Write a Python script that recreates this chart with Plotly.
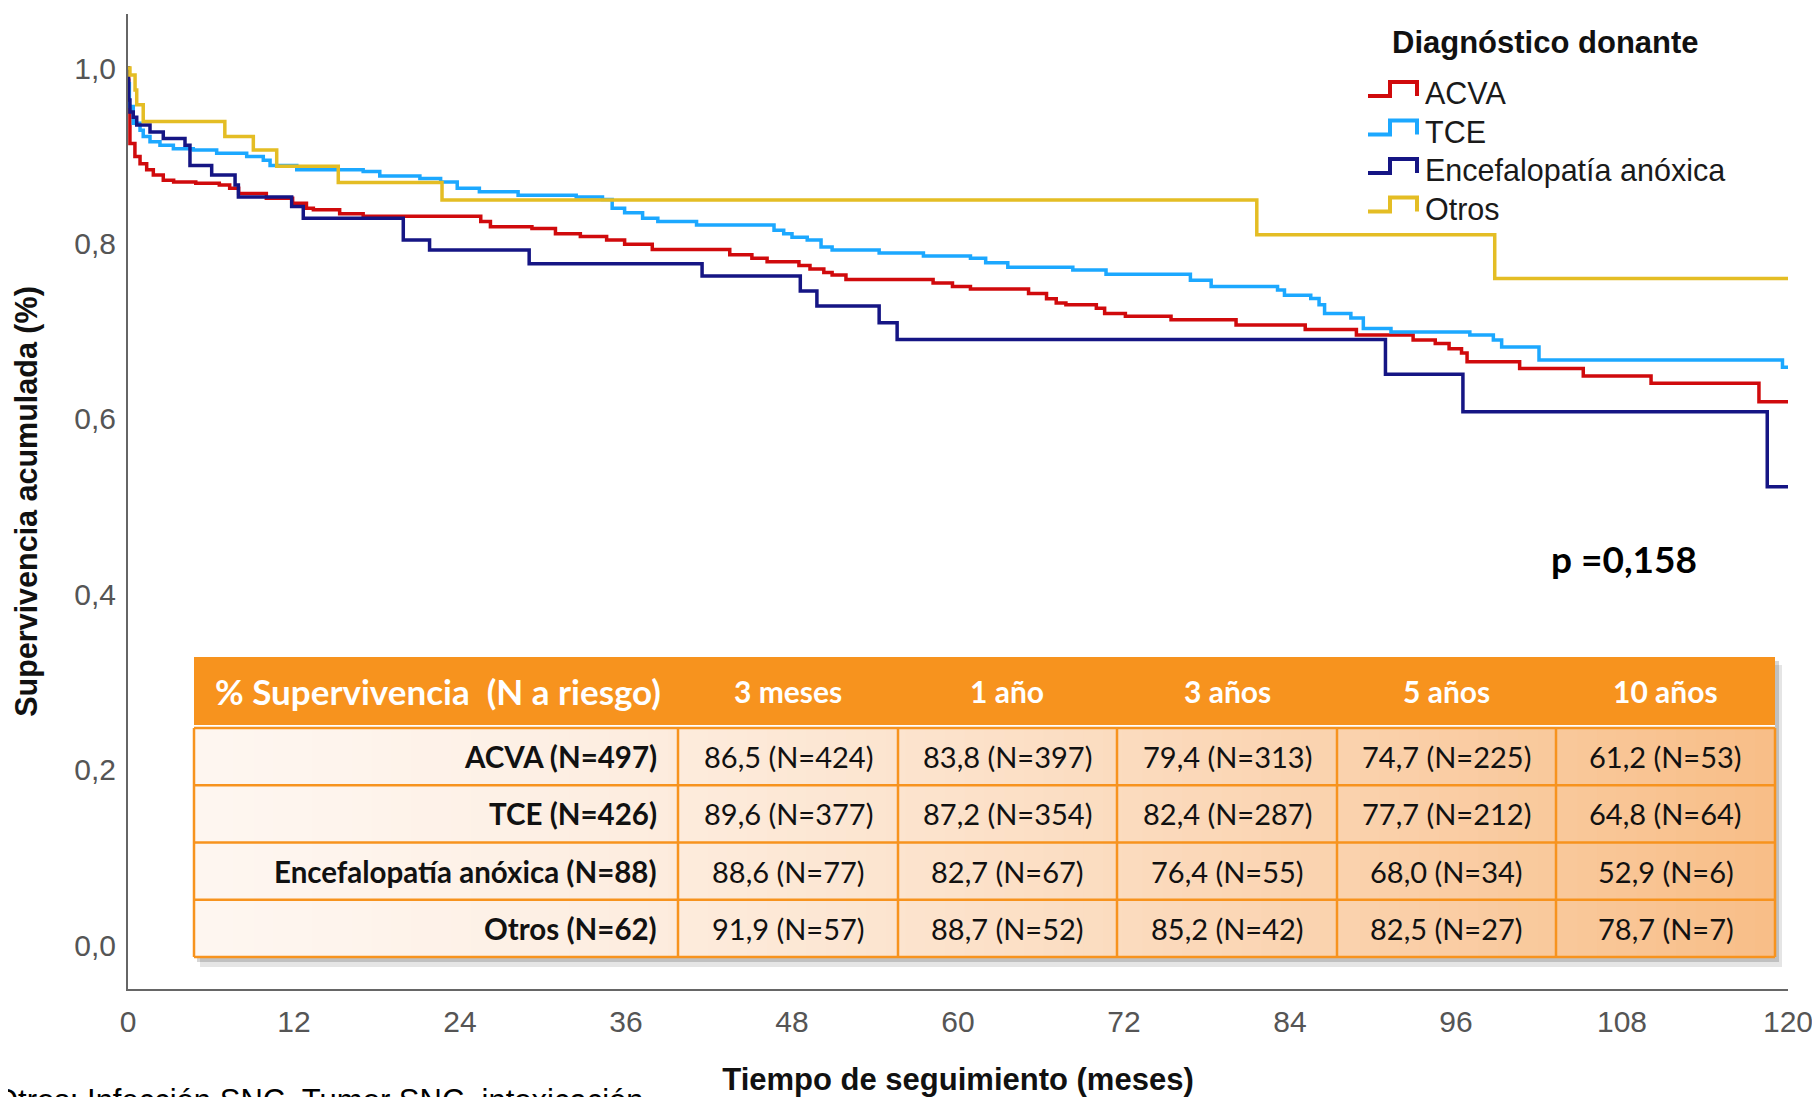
import plotly.graph_objects as go

# Kaplan-Meier curves: month where the curve steps down, and the new value
acva_t = [0, 0.05, 0.14, 0.5, 0.87, 1.35, 1.83, 2.55, 3.3, 4.9, 6.6, 7.35, 8.0, 10.0, 11.9, 12.9, 13.4,
          15.3, 17.0, 25.5, 26.2, 29.2, 30.9, 32.7, 34.6, 35.9, 37.9, 43.5, 45.1, 46.2, 48.5, 49.3,
          50.3, 50.9, 51.9, 58.2, 59.6, 60.9, 65.1, 66.4, 67.1, 67.8, 70.0, 70.6, 72.1, 75.4, 80.1,
          85.1, 88.8, 92.9, 94.5, 95.5, 96.4, 96.8, 100.6, 105.2, 110.1, 117.9, 120]
acva_s = [1.0, 0.956, 0.914, 0.899, 0.891, 0.884, 0.878, 0.872, 0.870, 0.8685, 0.8667, 0.8628, 0.857,
          0.8514, 0.8457, 0.840, 0.8385, 0.834, 0.831, 0.825, 0.819, 0.817, 0.811, 0.808, 0.804, 0.799,
          0.793, 0.787, 0.783, 0.779, 0.775, 0.771, 0.767, 0.764, 0.759, 0.755, 0.751, 0.748, 0.743,
          0.737, 0.732, 0.730, 0.726, 0.720, 0.717, 0.713, 0.707, 0.702, 0.6956, 0.690, 0.686, 0.680,
          0.675, 0.665, 0.6575, 0.649, 0.6405, 0.6195, 0.6195]

tce_t = [0, 0.02, 0.1, 0.38, 0.87, 1.1, 1.59, 2.31, 3.28, 4.72, 6.41, 8.58, 9.78, 10.27, 12.2, 17.0,
         18.2, 21.1, 22.6, 23.8, 25.4, 28.2, 32.4, 34.3, 35.0, 35.9, 37.2, 38.3, 41.1, 46.7, 47.4, 48.0,
         49.1, 50.1, 50.9, 54.3, 57.5, 60.9, 62.0, 63.6, 68.3, 70.7, 76.8, 78.3, 83.1, 83.6, 85.5, 86.1,
         86.5, 88.4, 89.3, 91.3, 97.0, 98.7, 99.3, 102.0, 119.6, 120]
tce_s = [1.0, 0.982, 0.956, 0.937, 0.929, 0.922, 0.916, 0.912, 0.908, 0.9065, 0.9027, 0.899, 0.895,
         0.889, 0.884, 0.882, 0.8768, 0.874, 0.870, 0.863, 0.859, 0.855, 0.853, 0.850, 0.840, 0.835,
         0.8286, 0.825, 0.821, 0.815, 0.811, 0.807, 0.804, 0.796, 0.7925, 0.789, 0.7856, 0.783, 0.778,
         0.773, 0.7697, 0.765, 0.758, 0.751, 0.747, 0.741, 0.7373, 0.730, 0.720, 0.715, 0.703, 0.699,
         0.6956, 0.690, 0.682, 0.667, 0.659, 0.659]

enc_t = [0, 0.02, 0.05, 0.14, 0.38, 0.63, 1.59, 2.55, 4.12, 4.48, 6.05, 7.74, 7.98, 11.83, 12.67,
         19.9, 21.8, 29.0, 41.5, 48.6, 49.8, 54.3, 55.6, 90.9, 96.5, 118.5, 120]
enc_s = [1.0, 0.986, 0.9635, 0.950, 0.944, 0.935, 0.927, 0.9197, 0.912, 0.889, 0.878, 0.8666, 0.853,
         0.842, 0.8286, 0.804, 0.7925, 0.777, 0.763, 0.7457, 0.7286, 0.7096, 0.6906, 0.651, 0.608,
         0.5226, 0.5226]

otros_t = [0, 0.14, 0.51, 0.63, 1.1, 7.0, 9.06, 10.75, 15.2, 22.7, 81.6, 98.8, 120]
otros_s = [1.0, 0.992, 0.975, 0.958, 0.939, 0.922, 0.9065, 0.888, 0.8696, 0.8495, 0.810, 0.760, 0.760]

group_names = ['ACVA', 'TCE', 'Encefalopatía anóxica', 'Otros']
group_colors = ['#d00a0c', '#1ca8ff', '#151584', '#e4bd24']

x_ticks = [0, 12, 24, 36, 48, 60, 72, 84, 96, 108, 120]
y_ticks = [0.0, 0.2, 0.4, 0.6, 0.8, 1.0]

table_header = ['% Supervivencia\u00a0 (N a riesgo)', '3 meses', '1 año', '3 años', '5 años', '10 años']
table_rows = ['ACVA (N=497)', 'TCE (N=426)', 'Encefalopatía anóxica (N=88)', 'Otros (N=62)']
table_values = [
    ['86,5 (N=424)', '83,8 (N=397)', '79,4 (N=313)', '74,7 (N=225)', '61,2 (N=53)'],
    ['89,6 (N=377)', '87,2 (N=354)', '82,4 (N=287)', '77,7 (N=212)', '64,8 (N=64)'],
    ['88,6 (N=77)', '82,7 (N=67)', '76,4 (N=55)', '68,0 (N=34)', '52,9 (N=6)'],
    ['91,9 (N=57)', '88,7 (N=52)', '85,2 (N=42)', '82,5 (N=27)', '78,7 (N=7)'],
]
p_value_text = 'p =0,158'
footnote_text = 'Otros: Infección SNC, Tumor SNC, intoxicación'

# page geometry (the html body adds an 8px margin, so the figure itself is 8px smaller)
PAGE_W, PAGE_H = 1820, 1097
BODY_PAD = 8
W, H = PAGE_W - BODY_PAD, PAGE_H - BODY_PAD
M_L, M_R, M_T, M_B = 120, 32, 6, 108
PLOT_W = W - M_L - M_R
PLOT_H = H - M_T - M_B


# helpers take positions in page pixels
def px_x(px):
    return (px - BODY_PAD - M_L) / PLOT_W


def px_y(py):
    return (H - M_B - (py - BODY_PAD)) / PLOT_H


def mix(c0, c1, f):
    return 'rgb({},{},{})'.format(*[round(a + (b - a) * f) for a, b in zip(c0, c1)])


def add_rect(fig, x0, y0, x1, y1, fill, line_color=None, line_width=0):
    fig.add_shape(
        type='rect', xref='paper', yref='paper', layer='above',
        x0=px_x(x0), x1=px_x(x1), y0=px_y(y1), y1=px_y(y0),
        fillcolor=fill,
        line=dict(color=line_color or fill, width=line_width),
    )


def add_line(fig, x0, y0, x1, y1, color, width):
    fig.add_shape(
        type='line', xref='paper', yref='paper', layer='above',
        x0=px_x(x0), x1=px_x(x1), y0=px_y(y0), y1=px_y(y1),
        line=dict(color=color, width=width),
    )


def add_text(fig, text, x, y, xanchor='center', size=27, color='#111', family='Lato', bold=False):
    fig.add_annotation(
        text=text, x=px_x(x), y=px_y(y), xref='paper', yref='paper',
        xanchor=xanchor, yanchor='middle', showarrow=False,
        font=dict(family=family, size=size, color=color, weight='bold' if bold else 'normal'),
    )


fig = go.Figure()
curves = [(acva_t, acva_s), (tce_t, tce_s), (enc_t, enc_s), (otros_t, otros_s)]
for name, color, (t, s) in zip(group_names, group_colors, curves):
    fig.add_trace(go.Scatter(
        x=t, y=s, name=name, mode='lines', line_shape='hv',
        line=dict(color=color, width=3.5), showlegend=False, cliponaxis=False,
    ))

# ---- legend, drawn by hand so the keys look like little steps
LEG_ICON_X = 1368
LEG_TEXT_X = 1423
leg_y = [93, 131.5, 170, 208.5]
add_text(fig, 'Diagnóstico donante', 1545, 42, size=31, color='#111', family='Liberation Sans, Arial', bold=True)
for name, color, yc in zip(group_names, group_colors, leg_y):
    fig.add_shape(
        type='path', xref='paper', yref='paper', layer='above',
        xsizemode='pixel', ysizemode='pixel',
        xanchor=px_x(LEG_ICON_X), yanchor=px_y(yc + 3),
        path='M0,0 L22,0 L22,14 L49,14 L49,0',
        line=dict(color=color, width=4),
    )
    add_text(fig, name, LEG_TEXT_X, yc, xanchor='left', size=30.5, color='#1a1a1a', family='Liberation Sans, Arial')

add_text(fig, p_value_text, 1624, 558, size=37, color='#000', bold=True)

# ---- survival table overlay
col_edges = [194, 678, 898, 1117, 1337, 1556, 1775]
HEAD_T, HEAD_B = 657, 725
BODY_T, BODY_B = 728, 957
row_h = (BODY_B - BODY_T) / len(table_rows)
ORANGE = '#f7931e'

add_rect(fig, col_edges[0] + 6, HEAD_T + 8, col_edges[-1] + 7, BODY_B + 10, 'rgba(0,0,0,0.10)')
add_rect(fig, col_edges[0] + 3, HEAD_T + 4, col_edges[-1] + 4, BODY_B + 5, 'rgba(0,0,0,0.16)')
add_rect(fig, col_edges[0], HEAD_T, col_edges[-1], BODY_B, 'white')
add_rect(fig, col_edges[0], HEAD_T, col_edges[-1], HEAD_B, ORANGE)

light, dark = (254, 246, 240), (248, 190, 136)
n_strips = 80
strip_w = (col_edges[-1] - col_edges[0]) / n_strips
for k in range(n_strips):
    x0 = col_edges[0] + k * strip_w
    add_rect(fig, x0, BODY_T, min(x0 + strip_w + 1, col_edges[-1]), BODY_B,
             mix(light, dark, (k / (n_strips - 1)) ** 1.4))

for r in range(len(table_rows) + 1):
    yy = BODY_T + r * row_h
    add_line(fig, col_edges[0], yy, col_edges[-1], yy, ORANGE, 2.5)
for xx in col_edges:
    add_line(fig, xx, BODY_T, xx, BODY_B, ORANGE, 2.5)

head_mid = (HEAD_T + HEAD_B) / 2
add_text(fig, table_header[0], col_edges[0] + 19, head_mid, xanchor='left', size=35, color='white', bold=True)
for j, head in enumerate(table_header[1:]):
    add_text(fig, head, (col_edges[j + 1] + col_edges[j + 2]) / 2, head_mid, size=30, color='white', bold=True)

for i, (label, vals) in enumerate(zip(table_rows, table_values)):
    yc = BODY_T + (i + 0.5) * row_h
    add_text(fig, label, col_edges[1] - 19, yc, xanchor='right', size=29.5, bold=True)
    for j, v in enumerate(vals):
        add_text(fig, v, (col_edges[j + 1] + col_edges[j + 2]) / 2, yc, size=29)

# footnote, cut by the bottom edge of the picture like in the source
fig.add_annotation(
    text=footnote_text, x=px_x(-8), y=px_y(1081), xref='paper', yref='paper',
    xanchor='left', yanchor='top', showarrow=False,
    font=dict(family='Liberation Sans, Arial', size=31, color='#000'),
)

axis_font = dict(family='Liberation Sans, Arial', size=30, color='#555')
title_font = dict(family='Liberation Sans, Arial', size=31, color='#111', weight='bold')

fig.update_layout(
    width=W, height=H,
    margin=dict(l=M_L, r=M_R, t=M_T, b=M_B, autoexpand=False),
    plot_bgcolor='white', paper_bgcolor='white',
    separators=',.',
    showlegend=False,
    xaxis=dict(
        range=[0, 120], tickvals=x_ticks, showgrid=False, zeroline=False, automargin=False,
        showline=True, linecolor='#666', linewidth=2, ticks='',
        tickfont=axis_font, ticklabelstandoff=5,
        title=dict(text='Tiempo de seguimiento (meses)', font=title_font, standoff=34),
    ),
    yaxis=dict(
        range=[-0.05, 1.0616], tickvals=y_ticks, tickformat='.1f', showgrid=False, zeroline=False,
        automargin=False, showline=True, linecolor='#666', linewidth=2, ticks='',
        tickfont=axis_font, ticklabelstandoff=4,
        title=dict(text='Supervivencia acumulada (%)', font=dict(title_font, size=30.5), standoff=28),
    ),
)

fig.write_html('out.html')
